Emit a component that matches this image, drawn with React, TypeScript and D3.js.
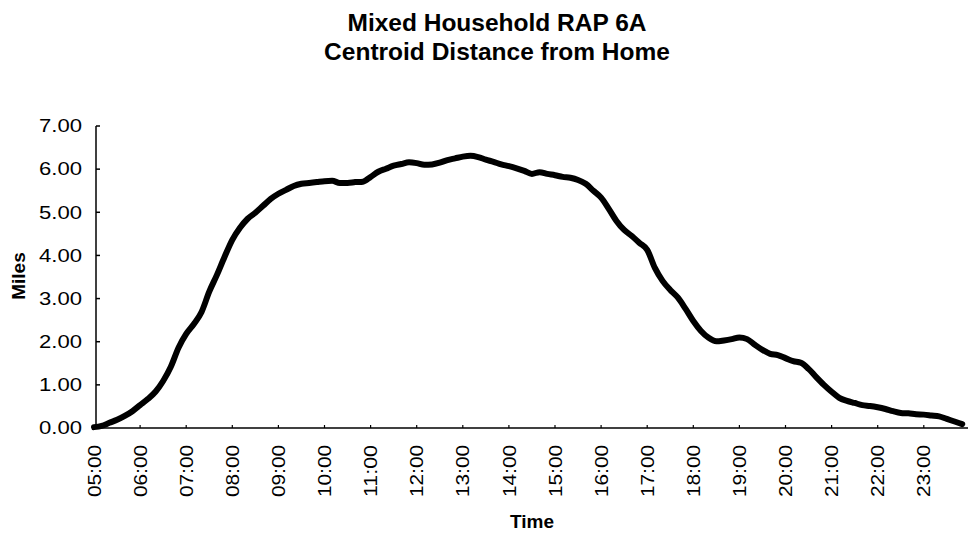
import React from "react";
import * as d3 from "d3";

const titleLines = ["Mixed Household RAP 6A", "Centroid Distance from Home"];
const yAxisTitle = "Miles";
const xAxisTitle = "Time";
const stepMinutes = 10;
const hourLabels = ["05:00","06:00","07:00","08:00","09:00","10:00","11:00","12:00","13:00","14:00","15:00","16:00","17:00","18:00","19:00","20:00","21:00","22:00","23:00"];
const yTicks = [0, 1, 2, 3, 4, 5, 6, 7];
const miles = [
  0.02,0.05,0.12,0.19,0.28,0.39,
  0.53,0.67,0.84,1.09,1.42,1.86,
  2.18,2.41,2.69,3.16,3.55,3.97,
  4.36,4.64,4.85,4.99,5.15,5.31,
  5.43,5.52,5.61,5.66,5.68,5.70,
  5.72,5.73,5.68,5.68,5.70,5.71,
  5.82,5.94,6.01,6.08,6.12,6.16,
  6.14,6.10,6.11,6.15,6.21,6.25,
  6.29,6.31,6.28,6.22,6.17,6.11,
  6.07,6.02,5.96,5.89,5.93,5.89,
  5.86,5.82,5.80,5.75,5.66,5.50,
  5.34,5.08,4.80,4.59,4.45,4.29,
  4.13,3.71,3.41,3.20,3.02,2.76,
  2.48,2.25,2.09,2.01,2.03,2.06,
  2.10,2.06,1.93,1.81,1.72,1.69,
  1.62,1.55,1.51,1.37,1.18,1.00,
  0.84,0.70,0.63,0.58,0.53,0.51,
  0.48,0.44,0.39,0.35,0.34,0.32,
  0.31,0.29,0.27,0.21,0.15,0.09,
];

export default function App() {
  const W = 970, H = 533;
  const left = 96, right = 968, top = 126, bottom = 428;
  const x = d3.scaleLinear().domain([0, 19 * 60]).range([94, 94 + 19 * 46.1]);
  const y = d3.scaleLinear().domain([0, 7]).range([bottom, top]);
  const line = d3.line<number>()
    .x((_, i) => x(i * stepMinutes))
    .y((d) => y(d))
    .curve(d3.curveMonotoneX);
  const font = "Liberation Sans, Arial, sans-serif";
  return (
    <svg width={W} height={H} style={{ position: "absolute", left: 0, top: 0, background: "#fff" }} fontFamily={font}>
      <rect width={W} height={H} fill="#fff" />
      {titleLines.map((t, i) => (
        <text key={t} x={497} y={31 + i * 29} textAnchor="middle" fontSize={24.5} fontWeight="bold" fill="#000">{t}</text>
      ))}
      <line x1={left} x2={left} y1={top} y2={bottom} stroke="#000" strokeWidth={1.5} />
      <line x1={left} x2={right} y1={bottom} y2={bottom} stroke="#000" strokeWidth={1.5} />
      {yTicks.map((v) => (
        <g key={v}>
          <line x1={left} x2={left + 4} y1={y(v)} y2={y(v)} stroke="#000" strokeWidth={1.5} />
          <text x={82} y={y(v)} dy="0.35em" textAnchor="end" fontSize={18} textLength={43} lengthAdjust="spacingAndGlyphs" fill="#000">{v.toFixed(2)}</text>
        </g>
      ))}
      {hourLabels.map((lab, i) => {
        const xp = x(i * 60);
        return (
          <g key={lab}>
            {i > 0 && <line x1={xp} x2={xp} y1={bottom} y2={bottom - 3} stroke="#000" strokeWidth={1.2} />}
            <text transform={`translate(${xp},${445}) rotate(-90)`} dy="0.35em" textAnchor="end" fontSize={19} textLength={52} lengthAdjust="spacingAndGlyphs" fill="#000">{lab}</text>
          </g>
        );
      })}
      <text transform={`translate(18,${276}) rotate(-90)`} dy="0.35em" textAnchor="middle" fontSize={19} fontWeight="bold" fill="#000">{yAxisTitle}</text>
      <text x={532} y={528} textAnchor="middle" fontSize={19} fontWeight="bold" fill="#000">{xAxisTitle}</text>
      <path d={line(miles) || ""} fill="none" stroke="#000" strokeWidth={6} strokeLinejoin="round" strokeLinecap="round" />
    </svg>
  );
}
